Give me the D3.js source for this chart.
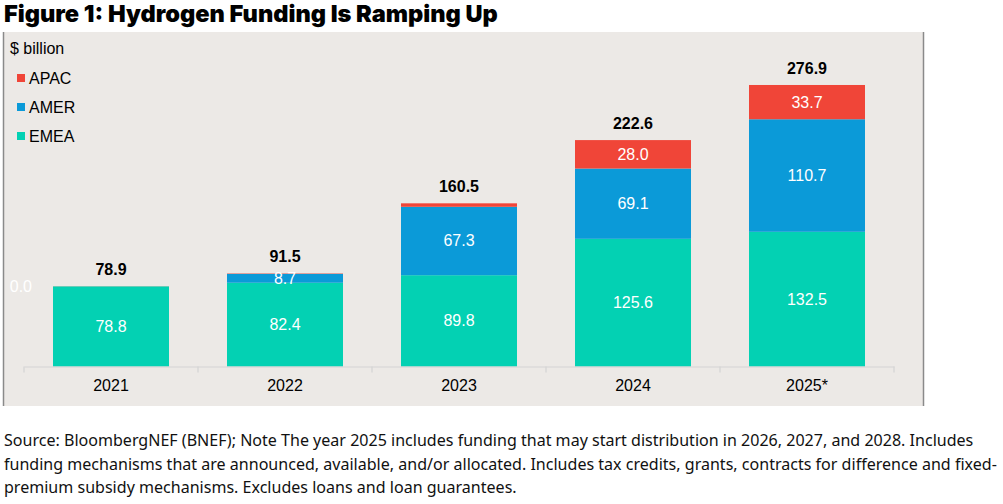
<!DOCTYPE html>
<html>
<head>
<meta charset="utf-8">
<script src="https://cdn.jsdelivr.net/npm/d3@7"></script>
<style>
  body { margin: 0; background: #fff; }
  svg { display: block; }
</style>
</head>
<body>
<div class="chart"></div>
<script>
const YEARS = ["2021", "2022", "2023", "2024", "2025*"];
const EMEA = [78.8, 82.4, 89.8, 125.6, 132.5];
const AMER = [0.0, 8.7, 67.3, 69.1, 110.7];
const APAC = [0.1, 0.4, 3.4, 28.0, 33.7];
const TOTALS = [78.9, 91.5, 160.5, 222.6, 276.9];
const SERIES_NAMES = ["EMEA", "AMER", "APAC"];
const SOURCE_LINES = [
    "Source: BloombergNEF (BNEF); Note The year 2025 includes funding that may start distribution in 2026, 2027, and 2028. Includes",
    "funding mechanisms that are announced, available, and/or allocated. Includes tax credits, grants, contracts for difference and fixed-",
    "premium subsidy mechanisms. Excludes loans and loan guarantees."
];

const width = 1003;
const height = 504;
const colors = { EMEA: "#03d1b3", AMER: "#0b9ad8", APAC: "#f04538" };
const armFont = "'Liberation Sans', Arial, sans-serif";

const svg = d3.select(".chart").append("svg")
    .attr("width", width)
    .attr("height", height);

// title, sized to fit the reference width
const title = svg.append("text")
    .attr("x", 4)
    .attr("y", 22)
    .attr("font-family", "Inter, 'Noto Sans', sans-serif")
    .attr("font-weight", 900)
    .attr("font-size", 24)
    .attr("fill", "#000")
    .text("Figure 1: Hydrogen Funding Is Ramping Up");
const tw = title.node().getComputedTextLength();
title.attr("font-size", 24 * 494 / tw);

// grey plot panel
svg.append("rect")
    .attr("x", 3).attr("y", 32)
    .attr("width", 921).attr("height", 374)
    .attr("fill", "#ece9e6");
svg.append("line").attr("x1", 3.5).attr("x2", 3.5).attr("y1", 32).attr("y2", 406)
    .attr("stroke", "#8a8a8a").attr("stroke-width", 1.5);
svg.append("line").attr("x1", 923.5).attr("x2", 923.5).attr("y1", 32).attr("y2", 406)
    .attr("stroke", "#8a8a8a").attr("stroke-width", 1.5);

const xScale = d3.scaleBand()
    .domain(YEARS)
    .range([24, 894])
    .paddingInner(1 / 3)
    .paddingOuter(1 / 6);
const yScale = d3.scaleLinear().domain([0, 300]).range([366.5, 61.5]);

// stack the series
const rows = YEARS.map((y, i) => ({ year: y, EMEA: EMEA[i], AMER: AMER[i], APAC: APAC[i] }));
const stacked = d3.stack().keys(SERIES_NAMES)(rows);

const g = svg.append("g");
g.selectAll(".series")
    .data(stacked)
    .enter()
    .append("g")
    .attr("fill", (s) => colors[s.key])
    .selectAll("rect")
    .data((s) => s)
    .enter()
    .append("rect")
    .attr("x", (d) => xScale(d.data.year))
    .attr("width", xScale.bandwidth())
    .attr("y", (d) => yScale(d[1]))
    .attr("height", (d) => yScale(d[0]) - yScale(d[1]));

// axis: baseline and ticks between categories
const axis = svg.append("g").attr("transform", "translate(0,366.5)");
axis.call(d3.axisBottom(xScale).tickSize(0).tickPadding(13));
axis.select(".domain").attr("stroke", "#d4d4d4").attr("stroke-width", 1.2);
axis.selectAll(".tick text")
    .attr("font-family", armFont)
    .attr("font-size", 16)
    .attr("fill", "#000");
const gap = (xScale.step() - xScale.bandwidth()) / 2;
const edges = YEARS.map((y) => xScale(y) - gap).concat([xScale.range()[1]]);
axis.selectAll(".edge")
    .data(edges)
    .enter()
    .append("line")
    .attr("x1", (d) => d).attr("x2", (d) => d)
    .attr("y1", 0).attr("y2", 6)
    .attr("stroke", "#d4d4d4").attr("stroke-width", 1.2);

// values inside segments
stacked.forEach((s) => {
    s.forEach((d) => {
        const v = d[1] - d[0];
        const x0 = xScale(d.data.year);
        if (v === 0) {
            svg.append("text")
                .attr("x", x0 - 21)
                .attr("y", yScale(d[0]))
                .attr("text-anchor", "end")
                .attr("dominant-baseline", "central")
                .attr("font-family", armFont)
                .attr("font-size", 16)
                .attr("fill", "#fff")
                .text(v.toFixed(1));
        } else if (v >= 5) {
            svg.append("text")
                .attr("x", x0 + xScale.bandwidth() / 2)
                .attr("y", yScale((d[0] + d[1]) / 2))
                .attr("text-anchor", "middle")
                .attr("dominant-baseline", "central")
                .attr("font-family", armFont)
                .attr("font-size", 16)
                .attr("fill", "#fff")
                .text(v.toFixed(1));
        }
    });
});

// totals on top
svg.selectAll(".total")
    .data(TOTALS)
    .enter()
    .append("text")
    .attr("x", (d, i) => xScale(YEARS[i]) + xScale.bandwidth() / 2)
    .attr("y", (d) => yScale(d) - 11)
    .attr("text-anchor", "middle")
    .attr("font-family", armFont)
    .attr("font-weight", "bold")
    .attr("font-size", 16)
    .attr("fill", "#000")
    .text((d) => d.toFixed(1));

// unit and legend
svg.append("text")
    .attr("x", 10).attr("y", 54)
    .attr("font-family", armFont)
    .attr("font-size", 16)
    .text("$ billion");
const legendItems = ["APAC", "AMER", "EMEA"];
const legend = svg.selectAll(".legend")
    .data(legendItems)
    .enter()
    .append("g")
    .attr("transform", (d, i) => "translate(17," + (78 + i * 29) + ")");
legend.append("rect")
    .attr("x", 0).attr("y", -4)
    .attr("width", 8).attr("height", 8)
    .attr("fill", (d) => colors[d]);
legend.append("text")
    .attr("x", 12).attr("y", 0)
    .attr("dominant-baseline", "central")
    .attr("font-family", armFont)
    .attr("font-size", 16)
    .text((d) => d);

// source note, font sized so the widest line fits
const src = svg.append("g")
    .attr("font-family", "'Noto Sans', 'Open Sans', sans-serif")
    .attr("font-size", 16)
    .attr("fill", "#111");
const srcLines = src.selectAll("text")
    .data(SOURCE_LINES)
    .enter()
    .append("text")
    .attr("x", 4)
    .attr("y", (d, i) => 446 + i * 23.5)
    .text((d) => d);
const w2 = srcLines.nodes()[1].getComputedTextLength();
src.attr("font-size", 16 * 993 / w2);
</script>
</body>
</html>
